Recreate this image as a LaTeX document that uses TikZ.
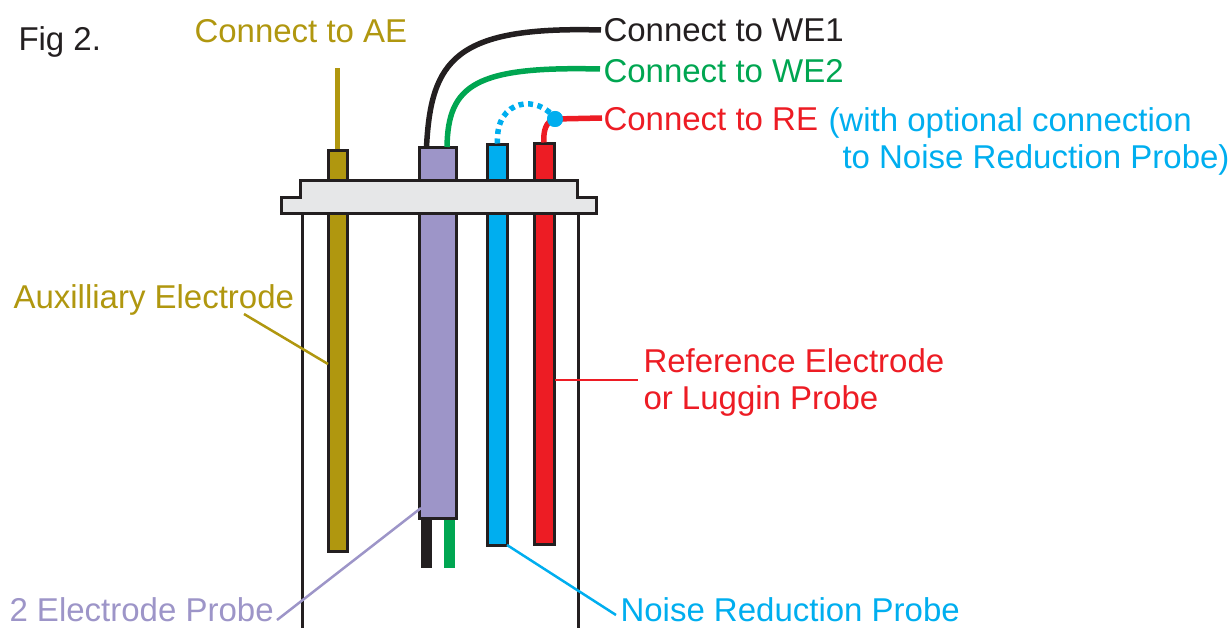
\documentclass[tikz,border=0pt]{standalone}
\usepackage{fontspec}
\setmainfont{Liberation Sans}
\usepackage{xcolor}
\definecolor{aeyellow}{HTML}{B0970F}
\definecolor{probepurple}{HTML}{9D95C8}
\definecolor{nrblue}{HTML}{00AEEF}
\definecolor{rered}{HTML}{ED1C24}
\definecolor{wegreen}{HTML}{00A651}
\definecolor{weblack}{HTML}{231F20}
\definecolor{capgrey}{HTML}{E6E7E8}
\usepackage{tikz}

\begin{document}
\begin{tikzpicture}[x=1pt,y=-1pt,line width=3pt]
              \tikzstyle{rod}=[draw=weblack,rectangle,inner sep=0pt,line width=3pt]
              \tikzstyle{stub}=[rectangle,inner sep=0pt]
              \tikzstyle{lbl}=[anchor=base west,inner sep=0pt,font=\fontsize{33}{38}\selectfont]
              \tikzstyle{wire}=[line width=5.5pt]
              \tikzstyle{leader}=[line width=2.5pt]

              \clip (0,0) rectangle (1232,628);

              % labels
              \node[lbl,text=weblack]     (fig)    at (17,51)   {Fig 2.};
              \node[lbl,text=aeyellow]    (LAE)    at (193,43)  {Connect to AE};
              \node[lbl,text=weblack]     (LWE1)   at (602,42)  {Connect to WE1};
              \node[lbl,text=wegreen]     (LWE2)   at (602,83)  {Connect to WE2};
              \node[lbl,text=rered]       (LRE)    at (602,131) {Connect to RE};
              \node[lbl,text=nrblue]      (LOPT)   at (827,132) {(with optional connection};
              \node[lbl,text=nrblue]      (LOPT2)  at (841,169) {to Noise Reduction Probe)};
              \node[lbl,text=aeyellow]    (LAUX)   at (12,309)  {Auxilliary Electrode};
              \node[lbl,text=rered]       (LREF)   at (642,373) {Reference Electrode};
              \node[lbl,text=rered]       (LLUG)   at (642,409) {or Luggin Probe};
              \node[lbl,text=probepurple] (LTWO)   at (8,621)   {2 Electrode Probe};
              \node[lbl,text=nrblue]      (LNR)    at (619,621) {Noise Reduction Probe};

              % cell walls
              \coordinate (WLt) at (302,214);
              \coordinate (WLb) at (302,628);
              \coordinate (WRt) at (578,214);
              \coordinate (WRb) at (578,628);
              \draw[weblack] (WLt) -- (WLb);
              \draw[weblack] (WRt) -- (WRb);

              % leads below the probe
              \node[stub,fill=weblack,minimum width=11pt,minimum height=52pt] (BL) at (426.5,542) {};
              \node[stub,fill=wegreen,minimum width=11pt,minimum height=52pt] (GL) at (449,542) {};

              % electrodes
              \node[rod,fill=aeyellow,minimum width=19pt,minimum height=400pt]    (AE) at (337.5,351) {};
              \node[rod,fill=probepurple,minimum width=37pt,minimum height=370pt] (TP) at (437.5,333) {};
              \node[rod,fill=nrblue,minimum width=20pt,minimum height=400pt]      (NR) at (497.5,345) {};
              \node[rod,fill=rered,minimum width=20pt,minimum height=400pt]       (RE) at (544,344) {};

              % cell cap
              \draw[weblack,fill=capgrey,line join=miter]
                    (300,181) -- (577,181) -- (577,198) -- (596,198) -- (596,214)
                    -- (281,214) -- (281,198) -- (300,198) -- cycle;

              % wires
              \coordinate (AEtip) at (337.5,68);
              \coordinate (TPa) at (426.5,147);
              \coordinate (TPb) at (447,147);
              \coordinate (WEa) at (601,30);
              \coordinate (WEb) at (600,69);
              \coordinate (REend) at (602,118);
              \node[circle,fill=nrblue,inner sep=0pt,minimum size=16pt] (DOT) at (555,119) {};
              \draw[wire,aeyellow] (AE.north) -- (AEtip);
              \draw[wire,weblack] (TPa) .. controls (431,60) and (455,26) .. (WEa);
              \draw[wire,wegreen] (TPb) .. controls (448,85) and (475,66) .. (WEb);
              \draw[wire,rered] (RE.north) .. controls (543,131) and (546,121) .. (DOT.center) -- (REend);
              \draw[wire,nrblue,dash pattern=on 5pt off 4.5pt] (NR.north) .. controls (495,97) and (540,95) .. (DOT.center);
              \node[circle,fill=nrblue,inner sep=0pt,minimum size=16pt] at (DOT) {};

              % pointer lines
              \coordinate (AUXt) at (244,314);
              \coordinate (AUXe) at (328,364);
              \coordinate (REFt) at (638,380);
              \coordinate (REFe) at (555,380);
              \coordinate (TWOt) at (277,620);
              \coordinate (TWOe) at (421,508);
              \coordinate (NRt)  at (616,615);
              \coordinate (NRe)  at (507,545);
              \draw[leader,aeyellow]    (AUXt) -- (AUXe);
              \draw[leader,rered]       (REFe) -- (REFt);
              \draw[leader,probepurple] (TWOt) -- (TWOe);
              \draw[leader,nrblue]      (NRe) -- (NRt);
\end{tikzpicture}
\end{document}
